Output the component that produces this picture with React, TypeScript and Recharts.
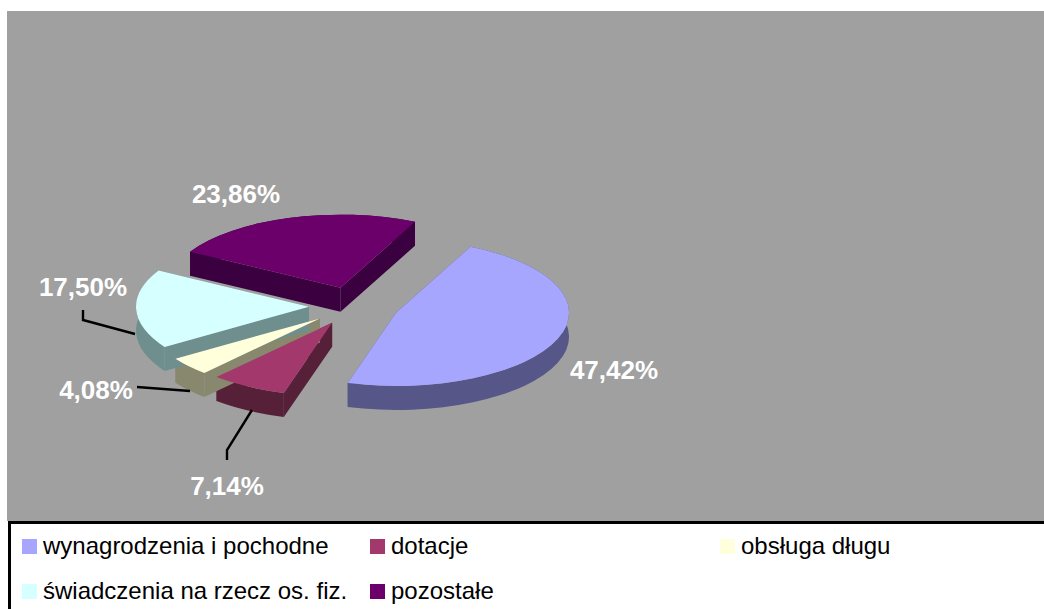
import { Legend, Pie, PieChart } from "recharts"

const categories = ["wynagrodzenia i pochodne", "dotacje", "obsługa długu", "świadczenia na rzecz os. fiz.", "pozostałe"]
const shares = [47.42, 7.14, 4.08, 17.5, 23.86]
const shareLabels = ["47,42%", "7,14%", "4,08%", "17,50%", "23,86%"]
const topColors = ["#a6a6ff", "#a3386c", "#ffffdc", "#d6ffff", "#6b006b"]
const sideColors = ["#565688", "#552038", "#88886e", "#6f8f8f", "#3a0040"]

const labelSpots = [
  { x: 614, y: 370, leader: null },
  { x: 227, y: 486, leader: "227,460 227,450 252,410" },
  { x: 96, y: 390, leader: "137,387 190,391" },
  { x: 83, y: 287, leader: "83,310 83,320 135,334" },
  { x: 236, y: 194, leader: null },
]
const legendColumns = [22, 370, 720]

const rows = categories.map((name, i) => ({ name, value: shares[i], fill: topColors[i], side: sideColors[i] }))

const squash = 0.423
const explode = 45
const depth = 24
const rad = Math.PI / 180

// the library hands us the sector angles, we flatten and pull it out here
function flatten(props: any) {
  const { cx, cy, outerRadius: r, startAngle, endAngle } = props
  const mid = ((startAngle + endAngle) / 2) * rad
  const ax = cx + explode * Math.cos(mid)
  const ay = cy - explode * squash * Math.sin(mid)
  const at = (deg: number) => ({
    x: ax + r * Math.cos(deg * rad),
    y: ay - r * squash * Math.sin(deg * rad),
  })
  return { ax, ay, r, ry: r * squash, a: at(startAngle), b: at(endAngle), large: Math.abs(endAngle - startAngle) > 180 ? 1 : 0 }
}

function TopFace(props: any) {
  const { ax, ay, r, ry, a, b, large } = flatten(props)
  return <path d={`M${ax},${ay} L${a.x},${a.y} A${r},${ry} 0 ${large} 1 ${b.x},${b.y} Z`} fill={props.fill} stroke="none" />
}

function SideFace(props: any) {
  const { ax, ay, r, ry, a, b, large } = flatten(props)
  const color = props.payload?.side ?? props.side
  const rim = `M${a.x},${a.y} A${r},${ry} 0 ${large} 1 ${b.x},${b.y} L${b.x},${b.y + depth} A${r},${ry} 0 ${large} 0 ${a.x},${a.y + depth} Z`
  const cutA = `M${ax},${ay} L${a.x},${a.y} L${a.x},${a.y + depth} L${ax},${ay + depth} Z`
  const cutB = `M${ax},${ay} L${b.x},${b.y} L${b.x},${b.y + depth} L${ax},${ay + depth} Z`
  return (
    <g fill={color} stroke="none">
      <path d={cutA} />
      <path d={cutB} />
      <path d={rim} />
    </g>
  )
}

function SliceLabel(props: any) {
  const spot = labelSpots[props.index]
  return (
    <g>
      {spot.leader ? <polyline points={spot.leader} fill="none" stroke="#000" strokeWidth={2.4} /> : null}
      <text x={spot.x} y={spot.y} fill="#fff" fontSize={26} fontWeight="bold" textAnchor="middle" dominantBaseline="central">
        {shareLabels[props.index]}
      </text>
    </g>
  )
}

function LegendBox({ payload }: any) {
  // both pies report their slices, keep one entry per category
  const items = categories.map((name) => (payload ?? []).find((p: any) => p.value === name)).filter(Boolean)
  return (
    <div style={{ position: "relative", width: 1034, height: 86, borderTop: "3px solid #000", borderLeft: "3px solid #000", background: "#fff" }}>
      {items.map((item: any, i: number) => {
        const col = i < 3 ? i : i - 3
        const top = i < 3 ? 14 : 59
        return (
          <div key={item.value} style={{ position: "absolute", left: legendColumns[col] - 11, top, display: "flex", alignItems: "center", height: 16 }}>
            <span style={{ width: 15, height: 15, background: item.color, marginRight: 6, flex: "none" }} />
            <span style={{ fontSize: 24, color: "#000", whiteSpace: "nowrap" }}>{item.value}</span>
          </div>
        )
      })}
    </div>
  )
}

export default function App() {
  return (
    <div style={{ position: "absolute", left: 0, top: 0, width: 1044, height: 609, overflow: "hidden", background: "#fff", fontFamily: "'Liberation Sans', Arial, sans-serif" }}>
      <div style={{ position: "absolute", left: 7, top: 11, width: 1037, height: 510, background: "#a0a0a0" }} />
      <PieChart width={1044} height={609} margin={{ top: 0, right: 0, bottom: 0, left: 0 }} style={{ position: "absolute", left: 0, top: 0 }}>
        <Pie
          data={rows}
          dataKey="value"
          nameKey="name"
          cx={354}
          cy={306}
          outerRadius={173}
          startAngle={64.5}
          endAngle={-295.5}
          legendType="none"
          isAnimationActive={false}
          shape={SideFace}
        />
        <Pie
          data={rows}
          dataKey="value"
          nameKey="name"
          cx={354}
          cy={306}
          outerRadius={173}
          startAngle={64.5}
          endAngle={-295.5}
          isAnimationActive={false}
          shape={TopFace}
          label={SliceLabel}
          labelLine={false}
        />
        <Legend
          content={LegendBox}
          wrapperStyle={{ position: "absolute", left: 8, top: 521, width: 1036, height: 88 }}
        />
      </PieChart>
    </div>
  )
}
